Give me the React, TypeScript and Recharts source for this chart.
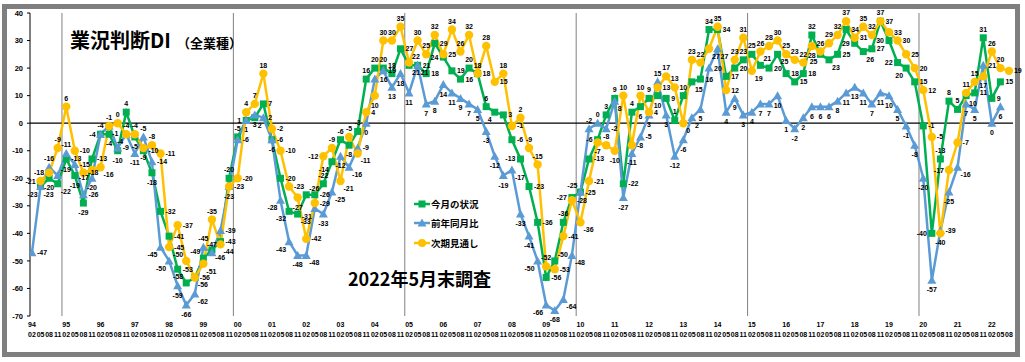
import React from "react";
import { LineChart, Line, XAxis, YAxis, ReferenceLine, LabelList } from "recharts";

const years = ["94","95","96","97","98","99","00","01","02","03","04","05","06","07","08","09","10","11","12","13","14","15","16","17","18","19","20","21","22"];
const months = ["02", "05", "08", "11"];
const dividerYears = ["95", "00", "05", "10", "15", "20"];
const yTicks = [-70, -60, -50, -40, -30, -20, -10, 0, 10, 20, 30, 40];

// 今月の状況
const current = [
  null, -23, -20, -22, -13, -19, -29, -13, -4, -4, -10, 4, -5, -10, -18, -32, -41, -53, -58, -56,
  -49, -46, -43, -20, -5, 1, 2, 7, -6, -20, -32, -33, -26, -26, -22, -14, -6, -8, -3, 16,
  20, 20, 18, 27, 21, 21, 18, 29, 24, 19, 16, 20, 18, 6, 4, 3, -6, -13, -23, -36,
  -56, -50, -36, -27, -25, -13, -6, 3, 9, -22, 4, 6, 9, 10, 9, 1, 10, 15, 16, 34,
  34, 17, 20, 23, 25, 21, 20, 25, 18, 15, 18, 32, 25, 23, 25, 34, 29, 26, 27, 37,
  30, 22, 20, 15, -1, -40, -13, 8, 5, 10, 11, 31, 9, 15, null,
];

// 前年同月比
const yearAgo = [
  -47, -23, -16, -19, -11, -15, -26, -20, -4, -1, -9, -4, -11, -5, -14, -45, -50, -59, -66, -62,
  -45, -47, -39, -23, -6, 1, 3, 2, -6, -28, -43, -48, -48, -31, -33, -25, -12, -16, -9, 0,
  16, 19, 13, 18, 11, 21, 7, 8, 14, 11, 9, 7, 5, -3, -12, -19, -17, -33, -41, -50,
  -66, -68, -64, -48, -25, -2, 0, -2, 8, -27, -11, -5, 3, 15, 3, -12, -6, 2, 5, 20,
  27, 4, 9, 3, 4, 7, 7, 10, 1, -2, 2, 6, 6, 6, 8, 11, 13, 11, 7, 11,
  10, 5, -1, -8, -20, -57, -39, -25, -16, 7, 5, 21, 0, 6, null,
];

// 次期見通し
const outlook = [
  null, -21, -18, -9, 6, -10, -18, -17, -16, -1, 0, -4, -4, -9, -8, -11, -45, -37, -50, -56,
  -51, -35, -44, -23, -20, 4, 7, 18, -2, -10, -23, -27, -42, -29, -12, -9, -21, -5, -11, 4,
  10, 30, 30, 35, 22, 30, 25, 32, 25, 34, 26, 32, 18, 28, 15, 18, -1, 2, -9, -15,
  -52, -53, -41, -28, -36, -21, -7, -8, -10, 10, -8, 10, 4, 13, 17, 13, 0, 23, 22, 27,
  35, 12, 23, 31, 19, 26, 28, 30, 25, 23, 22, 28, 26, 29, 32, 37, 31, 35, 32, 37,
  33, 30, 25, 20, 12, -5, -40, -17, -7, 11, 15, 17, 26, 20, 19,
];

const periods = years.flatMap((y) => months.map((m) => ({ y, m }))).slice(0, current.length);

const data = periods.map((p, i) => ({
  i,
  current: current[i],
  yearAgo: yearAgo[i],
  outlook: outlook[i],
}));

const dividers = dividerYears.map((y) => periods.findIndex((p) => p.y === y && p.m === "02") - 0.5);

const GREEN = "#00B050";
const BLUE = "#5B9BD5";
const YELLOW = "#FFC000";
const NUM_FONT = "'Liberation Sans', Arial, sans-serif";
const JP_FONT = "'Noto Sans CJK JP', sans-serif";

// chart geometry (used only to keep the value labels from colliding)
const W = 1025, H = 362;
const M = { top: 13, right: 12, bottom: 0, left: 0 };
const Y_AXIS_W = 30, X_AXIS_H = 46;
const X_DOMAIN: [number, number] = [-0.23, 114.47];
const Y_DOMAIN: [number, number] = [-70, 40];
const plotW = W - M.left - M.right - Y_AXIS_W;
const plotH = H - M.top - M.bottom - X_AXIS_H;
const kx = plotW / (X_DOMAIN[1] - X_DOMAIN[0]);
const ky = plotH / (Y_DOMAIN[1] - Y_DOMAIN[0]);
const sx = (i: number) => M.left + Y_AXIS_W + (i - X_DOMAIN[0]) * kx;
const sy = (v: number) => M.top + (Y_DOMAIN[1] - v) * ky;

type Box = { x1: number; y1: number; x2: number; y2: number };
const overlap = (a: Box, b: Box) =>
  Math.max(0, Math.min(a.x2, b.x2) - Math.max(a.x1, b.x1)) * Math.max(0, Math.min(a.y2, b.y2) - Math.max(a.y1, b.y1));

const OFFSETS: Record<string, { dx: number; dy: number; anchor: string }> = {
  top: { dx: 0, dy: -6, anchor: "middle" },
  bottom: { dx: 0, dy: 12, anchor: "middle" },
  right: { dx: 5, dy: 2.5, anchor: "start" },
  left: { dx: -5, dy: 2.5, anchor: "end" },
  topRight: { dx: 3, dy: -4, anchor: "start" },
  topLeft: { dx: -3, dy: -4, anchor: "end" },
  bottomRight: { dx: 3, dy: 10, anchor: "start" },
  bottomLeft: { dx: -3, dy: 10, anchor: "end" },
};

const labelBox = (x: number, y: number, text: string, place: string): Box => {
  const o = OFFSETS[place];
  const w = text.replace("-", "").length * 3.9 + (text.startsWith("-") ? 2.4 : 0);
  const bx = o.anchor === "start" ? x + o.dx : o.anchor === "end" ? x + o.dx - w : x + o.dx - w / 2;
  const base = y + o.dy;
  return { x1: bx - 0.3, y1: base - 5.4, x2: bx + w + 0.3, y2: base + 0.3 };
};

const seriesArrays: Record<string, (number | null)[]> = { outlook, current, yearAgo };
const seriesKeys = ["outlook", "current", "yearAgo"];

const placements: Record<string, string[]> = (() => {
  const result: Record<string, string[]> = { outlook: [], current: [], yearAgo: [] };
  const markers: Box[] = [];
  seriesKeys.forEach((k) =>
    seriesArrays[k].forEach((v, i) => {
      if (v == null) return;
      markers.push({ x1: sx(i) - 4, y1: sy(v) - 4, x2: sx(i) + 4, y2: sy(v) + 4 });
    })
  );
  const placed: Box[] = [];
  periods.forEach((_, i) => {
    const present = seriesKeys.filter((k) => seriesArrays[k][i] != null);
    const sorted = [...present].sort((a, b) => (seriesArrays[b][i] as number) - (seriesArrays[a][i] as number));
    sorted.forEach((k, rank) => {
      const v = seriesArrays[k][i] as number;
      let prefs: string[];
      if (sorted.length === 1) prefs = ["right", "top", "topRight", "bottom", "left"];
      else if (rank === 0) prefs = ["top", "topRight", "topLeft", "right", "left", "bottom"];
      else if (rank === sorted.length - 1) prefs = ["bottom", "bottomRight", "bottomLeft", "right", "left", "top"];
      else prefs = ["right", "left", "topRight", "bottomRight", "topLeft", "bottomLeft", "top", "bottom"];
      let best = prefs[0];
      let bestCost = Infinity;
      for (const p of prefs) {
        const b = labelBox(sx(i), sy(v), String(v), p);
        let cost = 0;
        placed.forEach((q) => (cost += overlap(b, q) * 10));
        markers.forEach((q) => (cost += overlap(b, q)));
        if (cost < bestCost - 0.01) {
          bestCost = cost;
          best = p;
        }
        if (cost === 0) break;
      }
      result[k][i] = best;
      placed.push(labelBox(sx(i), sy(v), String(v), best));
    });
  });
  return result;
})();

const square = (p: any) =>
  p.cy == null ? <g key={p.index} /> : (
    <rect key={p.index} x={p.cx - 3.5} y={p.cy - 3.5} width={7} height={7} fill={GREEN} />
  );
const triangle = (p: any) =>
  p.cy == null ? <g key={p.index} /> : (
    <path key={p.index} d={`M${p.cx},${p.cy - 4.5}L${p.cx + 4.5},${p.cy + 3.5}L${p.cx - 4.5},${p.cy + 3.5}Z`} fill={BLUE} />
  );
const circle = (p: any) =>
  p.cy == null ? <g key={p.index} /> : <circle key={p.index} cx={p.cx} cy={p.cy} r={4.2} fill={YELLOW} />;

const makeLabel = (key: string) => (props: any) => {
  const { x, y, value, index } = props;
  if (value == null || x == null || y == null) return null;
  const o = OFFSETS[placements[key][index] || "top"];
  return (
    <text key={index} x={x + o.dx} y={y + o.dy} textAnchor={o.anchor} fontSize={7} fontWeight="bold" fontFamily={NUM_FONT} fill="#000">
      {value}
    </text>
  );
};

const PeriodTick = (props: any) => {
  const { x, y, payload } = props;
  const p = periods[payload.value];
  if (!p) return null;
  return (
    <g fontFamily={NUM_FONT} fontWeight="bold" fontSize={7} fill="#000">
      {p.m === "02" && (
        <text x={x} y={y + 9} textAnchor="middle">{p.y}</text>
      )}
      <text x={x} y={y + 19} textAnchor="middle">{p.m}</text>
    </g>
  );
};

const legendItems = [
  { name: "今月の状況", color: GREEN, shape: "square" },
  { name: "前年同月比", color: BLUE, shape: "triangle" },
  { name: "次期見通し", color: YELLOW, shape: "circle" },
];

export default function App() {
  return (
    <div style={{ position: "absolute", left: 0, top: 0, width: W, height: H, background: "#fff" }}>
      <div
        style={{
          position: "absolute",
          left: 2,
          top: 4,
          width: 1008,
          height: 343,
          border: "5px solid #7f7f7f",
        }}
      />
      <LineChart
        width={W}
        height={H}
        data={data}
        margin={M}
        style={{ position: "absolute", left: 0, top: 0 }}
      >
        <XAxis
          dataKey="i"
          type="number"
          domain={X_DOMAIN}
          allowDataOverflow
          ticks={data.map((d) => d.i)}
          interval={0}
          tick={<PeriodTick />}
          tickLine={false}
          axisLine={false}
          tickSize={0}
          height={X_AXIS_H}
        />
        <YAxis
          domain={Y_DOMAIN}
          ticks={yTicks}
          interval={0}
          width={Y_AXIS_W}
          tickSize={3}
          tickMargin={4}
          axisLine={{ stroke: "#000", strokeWidth: 1 }}
          tickLine={{ stroke: "#000" }}
          tick={{ fontSize: 7.5, fontWeight: "bold", fill: "#000", fontFamily: NUM_FONT }}
        />
        {dividers.map((d) => (
          <ReferenceLine key={d} x={d} stroke="#808080" strokeWidth={1} />
        ))}
        <ReferenceLine y={0} stroke="#000" strokeWidth={1.2} />
        <Line dataKey="current" stroke={GREEN} strokeWidth={2.5} dot={square} activeDot={false} isAnimationActive={false}>
          <LabelList dataKey="current" content={makeLabel("current")} />
        </Line>
        <Line dataKey="yearAgo" stroke={BLUE} strokeWidth={2.5} dot={triangle} activeDot={false} isAnimationActive={false}>
          <LabelList dataKey="yearAgo" content={makeLabel("yearAgo")} />
        </Line>
        <Line dataKey="outlook" stroke={YELLOW} strokeWidth={2.5} dot={circle} activeDot={false} isAnimationActive={false}>
          <LabelList dataKey="outlook" content={makeLabel("outlook")} />
        </Line>
      </LineChart>

      <div style={{ position: "absolute", left: 70, top: 27, fontFamily: JP_FONT, fontWeight: 700, fontSize: 20, whiteSpace: "nowrap", lineHeight: "26px" }}>
        業況判断DI
        <span style={{ fontSize: 13, marginLeft: 6 }}>（全業種）</span>
      </div>

      <div style={{ position: "absolute", left: 348, top: 266, fontFamily: JP_FONT, fontWeight: 700, fontSize: 18, whiteSpace: "nowrap", lineHeight: "24px" }}>
        2022年5月末調査
      </div>

      <div style={{ position: "absolute", left: 414, top: 194, fontFamily: JP_FONT, fontWeight: 700, fontSize: 9.5 }}>
        {legendItems.map((it) => (
          <div key={it.name} style={{ display: "flex", alignItems: "center", height: 19.5 }}>
            <svg width={16} height={10} style={{ marginRight: 1 }}>
              <line x1={0} y1={5} x2={16} y2={5} stroke={it.color} strokeWidth={2.5} />
              {it.shape === "square" && <rect x={4.5} y={1.5} width={7} height={7} fill={it.color} />}
              {it.shape === "triangle" && <path d="M8,0.5L12.5,8.5L3.5,8.5Z" fill={it.color} />}
              {it.shape === "circle" && <circle cx={8} cy={5} r={4} fill={it.color} />}
            </svg>
            <span>{it.name}</span>
          </div>
        ))}
      </div>
    </div>
  );
}
